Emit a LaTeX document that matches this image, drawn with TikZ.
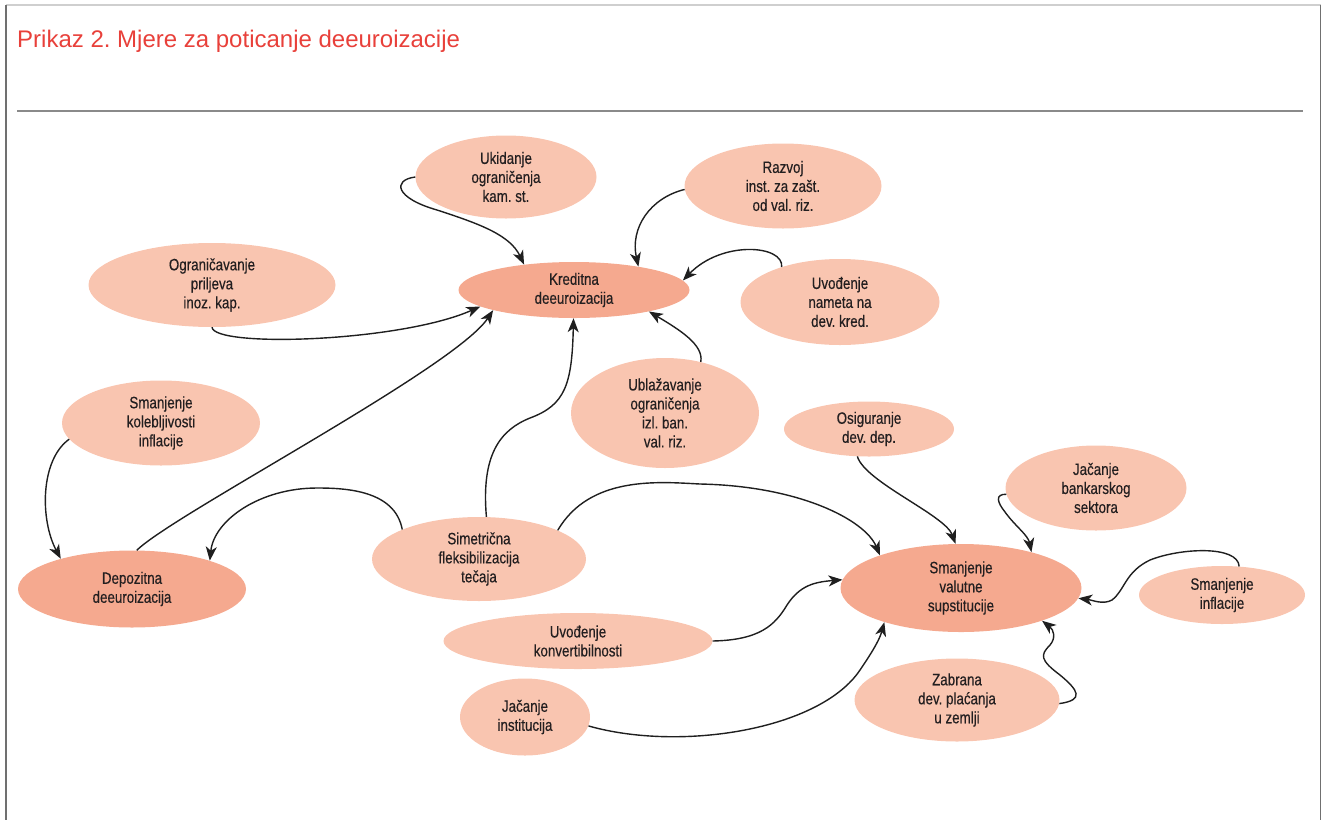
\documentclass[tikz,border=0pt]{standalone}
\usepackage{fontspec}
\setmainfont{Liberation Sans}
\newfontfamily\nodefont[FakeStretch=0.81,FakeBold=0.4]{Liberation Sans}
\usetikzlibrary{shapes.geometric,arrows.meta}
\definecolor{lightn}{HTML}{F9C5B0}
\definecolor{darkn}{HTML}{F5A98F}
\definecolor{titlered}{HTML}{E8403A}
\definecolor{txt}{HTML}{231F20}
\definecolor{framegray}{HTML}{707070}
\definecolor{topgray}{HTML}{CFCFCF}
\definecolor{rulegray}{HTML}{8A8A8A}
\tikzset{
  mnode/.style={ellipse, fill=lightn, inner sep=0pt, align=center,
    font=\nodefont\fontsize{16.5}{19}\selectfont, text=txt},
  mainnode/.style={mnode, fill=darkn},
  conn/.style={line width=1.4pt, draw=black!88, -{Stealth[length=14pt,width=11pt,inset=4pt]}},
}
\frenchspacing
\begin{document}
\begin{tikzpicture}[x=1pt,y=-1pt]
\useasboundingbox (0,0) rectangle (1322,820);
% frame
\draw[line width=1.5pt, topgray] (6,5) -- (1320.5,5);
\draw[line width=1.5pt, framegray] (6,5) -- (6,820);
\draw[line width=1.5pt, framegray] (1320.5,5) -- (1320.5,820);
\draw[line width=2pt, rulegray] (17,111) -- (1303,111);
\node[anchor=base west, inner sep=0pt, text=titlered, font=\fontsize{24}{28}\selectfont] (title) at (17,47) {Prikaz 2. Mjere za poticanje deeuroizacije};

% nodes
\node[mnode, minimum width=181pt, minimum height=83pt] (uk) at (506,177) {Ukidanje\\ograničenja\\kam. st.};
\node[mnode, minimum width=197pt, minimum height=85pt] (raz) at (783,186) {Razvoj\\inst. za zašt.\\od val. riz.};
\node[mainnode, minimum width=231pt, minimum height=56pt] (kr) at (574,290) {Kreditna\\deeuroizacija};
\node[mnode, minimum width=199pt, minimum height=86pt] (nam) at (840,302) {Uvođenje\\nameta na\\dev. kred.};
\node[mnode, minimum width=247pt, minimum height=84pt] (ogr) at (212,285) {Ograničavanje\\priljeva\\inoz. kap.};
\node[mnode, minimum width=198pt, minimum height=85pt] (kol) at (161,423) {Smanjenje\\kolebljivosti\\inflacije};
\node[mainnode, minimum width=228pt, minimum height=77pt] (dep) at (132,589) {Depozitna\\deeuroizacija};
\node[mnode, minimum width=214pt, minimum height=84pt] (sim) at (479,559) {Simetrična\\fleksibilizacija\\tečaja};
\node[mnode, minimum width=188pt, minimum height=110pt] (ubl) at (665,413) {Ublažavanje\\ograničenja\\izl. ban.\\val. riz.};
\node[mnode, minimum width=170pt, minimum height=55pt] (osi) at (869,429) {Osiguranje\\dev. dep.};
\node[mnode, minimum width=181pt, minimum height=85pt] (ban) at (1096,488) {Jačanje\\bankarskog\\sektora};
\node[mainnode, minimum width=241pt, minimum height=88pt] (val) at (961,588) {Smanjenje\\valutne\\supstitucije};
\node[mnode, minimum width=166pt, minimum height=58pt] (inf) at (1222,595) {Smanjenje\\inflacije};
\node[mnode, minimum width=205pt, minimum height=83pt] (zab) at (957,700) {Zabrana\\dev. plaćanja\\u zemlji};
\node[mnode, minimum width=269pt, minimum height=56pt] (kon) at (578,641) {Uvođenje\\konvertibilnosti};
\node[mnode, minimum width=130pt, minimum height=77pt] (ins) at (525,717) {Jačanje\\institucija};

% connectors
\draw[conn] (uk.180) .. controls (392,180) and (395,198) .. (437,210)
  .. controls (480,224) and (510,235) .. (kr.153);
\draw[conn] (raz.182) .. controls (650,198) and (630,228) .. (kr.20);
\draw[conn] (nam.149) .. controls (784,245) and (722,240) .. (kr.5);
\draw[conn] (ogr.270) .. controls (214,348) and (400,342) .. (kr.190);
\draw[conn] (dep.83) .. controls (172,515) and (455,368) .. (kr.194);
\draw[conn] (sim.80) .. controls (481,455) and (500,430) .. (530,418)
  .. controls (565,405) and (572,385) .. (kr.269);
\draw[conn] (ubl.55) .. controls (704,345) and (680,330) .. (kr.344);
\draw[conn] (kol.190) .. controls (40,460) and (40,520) .. (dep.157);
\draw[conn] (sim.159) .. controls (395,490) and (345,488) .. (317,488)
  .. controls (260,488) and (214,520) .. (dep.20);
\draw[conn] (sim.20) .. controls (590,475) and (660,482) .. (700,484)
  .. controls (800,486) and (865,520) .. (val.158);
\draw[conn] (osi.247) .. controls (865,482) and (945,515) .. (val.97);
\draw[conn] (ban.184) .. controls (995,494) and (997,502) .. (1005,512)
  .. controls (1015,526) and (1028,535) .. (val.27);
\draw[conn] (inf.59) .. controls (1238,545) and (1180,548) .. (1150,560)
  .. controls (1125,572) and (1125,590) .. (1112,600)
  .. controls (1103,605) and (1092,600) .. (val.355);
\draw[conn] (zab.358) .. controls (1085,700) and (1078,690) .. (1060,675)
  .. controls (1040,660) and (1040,655) .. (1050,645)
  .. controls (1056,638) and (1054,630) .. (val.338);
\draw[conn] (kon.0) .. controls (760,640) and (775,625) .. (787,605)
  .. controls (800,585) and (815,582) .. (val.176);
\draw[conn] (ins.352) .. controls (680,752) and (820,730) .. (860,670)
  .. controls (875,648) and (880,638) .. (val.204);
\end{tikzpicture}
\end{document}
